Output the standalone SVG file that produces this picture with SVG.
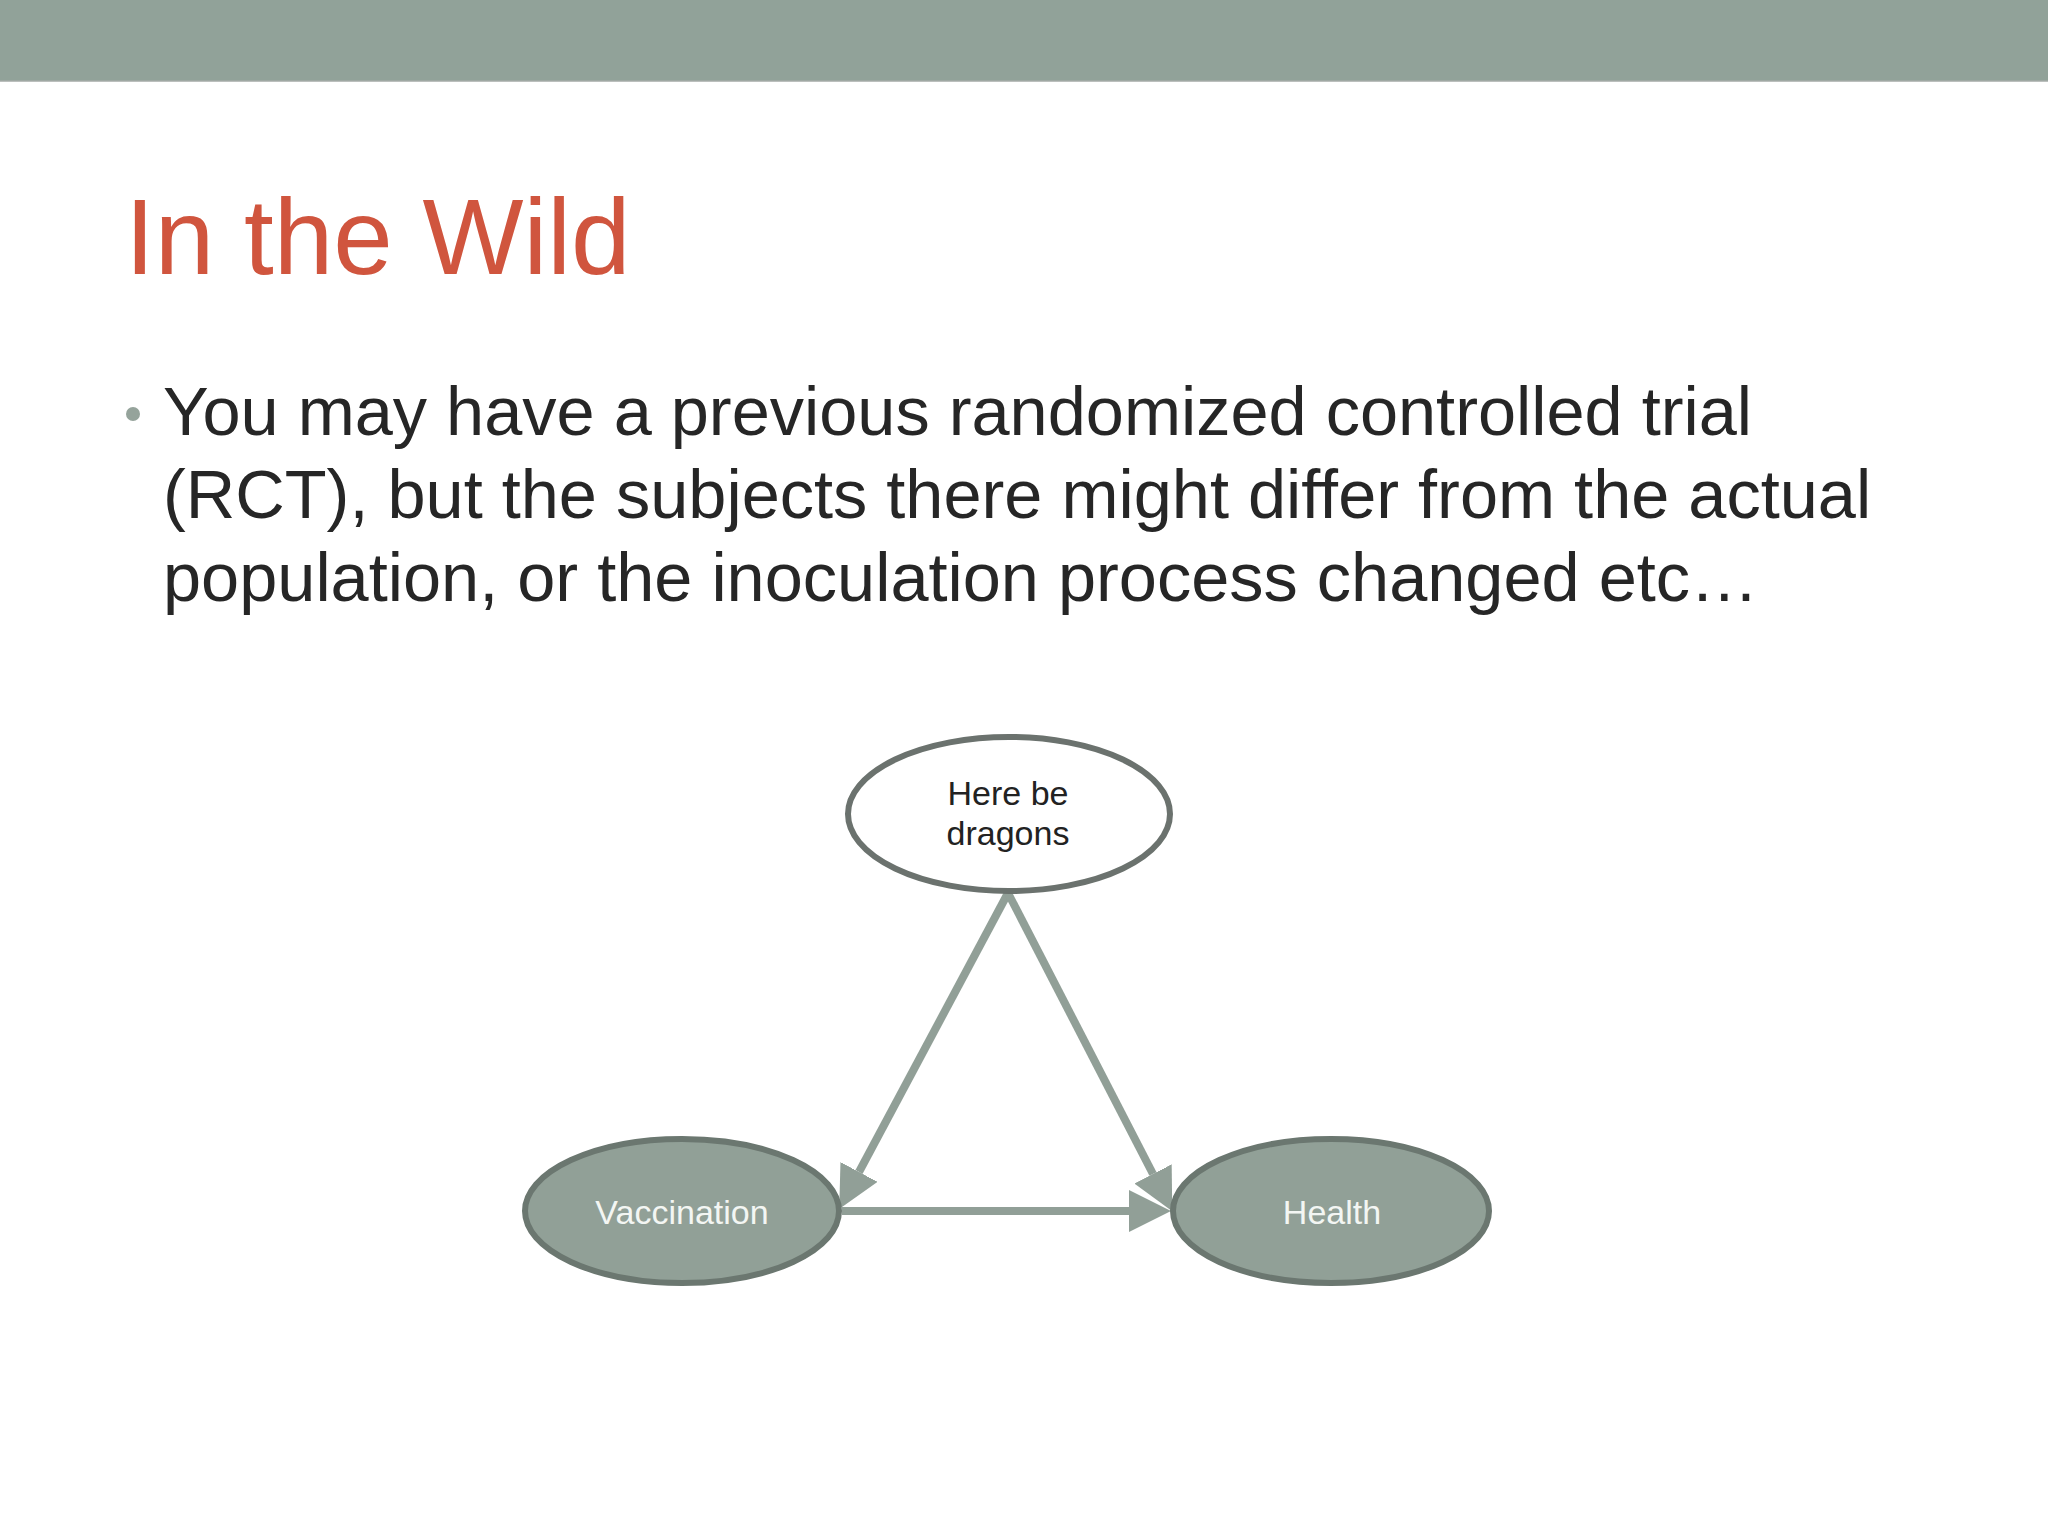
<svg xmlns="http://www.w3.org/2000/svg" width="2048" height="1536" viewBox="0 0 2048 1536">
  <style>
    .title { font-family: "Liberation Sans", Arial, sans-serif; font-size: 107px; fill: #d0553e; }
    .body { font-family: "Liberation Sans", Arial, sans-serif; font-size: 68.5px; fill: #262626; }
    .nodeText { font-family: "Liberation Sans", Arial, sans-serif; font-size: 34px; text-anchor: middle; }
    .dark { fill: #222222; }
    .light { fill: #f3f6f3; }
    .filled { fill: #91a097; stroke: #6b7770; stroke-width: 6; }
    .open { fill: #ffffff; stroke: #6b726e; stroke-width: 6; }
    .edge { stroke: #919f97; stroke-width: 8; fill: none; }
  </style>
  <defs>
    <marker id="arrow" markerUnits="userSpaceOnUse" viewBox="0 0 42 42" refX="0" refY="21" markerWidth="42" markerHeight="42" orient="auto">
      <path d="M0,0 L42,21 L0,42 Z" fill="#919f97"/>
    </marker>
  </defs>
  <rect x="0" y="0" width="2048" height="1536" fill="#ffffff"/>
  <rect x="0" y="0" width="2048" height="81" fill="#91a299"/>
  <line x1="0" y1="81" x2="2048" y2="81" stroke="#a5aaa7" stroke-width="1.5"/>

  <text class="title" x="125" y="274">In the Wild</text>

  <circle cx="133" cy="414" r="7" fill="#95a39b"/>
  <text class="body" x="163" y="435">You may have a previous randomized controlled trial</text>
  <text class="body" x="163" y="518">(RCT), but the subjects there might differ from the actual</text>
  <text class="body" x="163" y="601">population, or the inoculation process changed etc…</text>

  <g id="connectors">
    <line class="edge" x1="1008" y1="893" x2="859" y2="1172" marker-end="url(#arrow)"/>
    <line class="edge" x1="1008" y1="893" x2="1153" y2="1174" marker-end="url(#arrow)"/>
    <line class="edge" x1="842" y1="1211" x2="1129" y2="1211" marker-end="url(#arrow)"/>
  </g>

  <g id="node-dragons">
    <ellipse class="open" cx="1009" cy="814" rx="161" ry="77"/>
    <text class="nodeText dark" x="1008" y="805">Here be</text>
    <text class="nodeText dark" x="1008" y="845">dragons</text>
  </g>
  <g id="node-vaccination">
    <ellipse class="filled" cx="682" cy="1211" rx="157" ry="72"/>
    <text class="nodeText light" x="682" y="1224">Vaccination</text>
  </g>
  <g id="node-health">
    <ellipse class="filled" cx="1331" cy="1211" rx="158" ry="72"/>
    <text class="nodeText light" x="1332" y="1224">Health</text>
  </g>
</svg>
